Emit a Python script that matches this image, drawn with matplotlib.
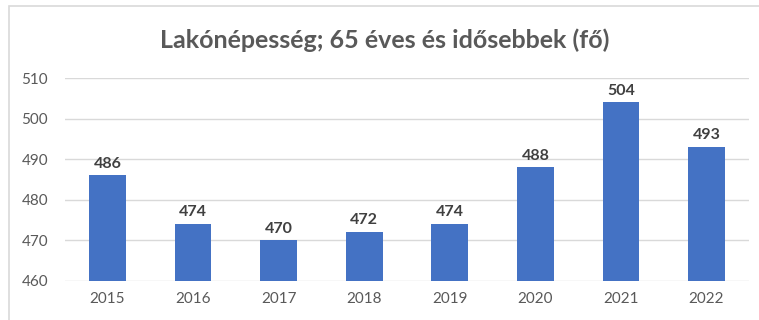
import matplotlib.pyplot as plt
from matplotlib.patches import Rectangle

years = ["2015", "2016", "2017", "2018", "2019", "2020", "2021", "2022"]
population = [486, 474, 470, 472, 474, 488, 504, 493]
y_ticks = [460, 470, 480, 490, 500, 510]
title = "Lakónépesség; 65 éves és idősebbek (fő)"

plt.rcParams['font.family'] = ['Lato', 'DejaVu Sans']

fig = plt.figure(figsize=(7.59, 3.2), dpi=100)
ax = fig.add_axes([0.0852, 0.1219, 0.902, 0.634])

x = range(len(years))
ax.bar(x, population, width=0.43, color="#4472C4", zorder=3)
for xi, v in zip(x, population):
    ax.text(xi, v + 1.2, str(v), ha="center", va="bottom", fontsize=11.5,
            fontweight="bold", color="#404040")

ax.set_xlim(-0.5, len(years) - 0.5)
ax.set_ylim(460, 510)
ax.set_yticks(y_ticks)
ax.set_xticks(list(x))
ax.set_xticklabels(years)
ax.tick_params(axis="both", length=0, labelsize=11, labelcolor="#595959")
ax.tick_params(axis="y", pad=12)
ax.tick_params(axis="x", pad=8)
ax.yaxis.grid(True, color="#D9D9D9", linewidth=1, zorder=0)
for s in ax.spines.values():
    s.set_visible(False)

fig.text(0.507, 0.875, title, ha="center", va="center", fontsize=18,
         fontweight="bold", color="#595959")

# chart frame
fig.patches.append(Rectangle((9 / 759, -0.05), 1.0, 1.05 - 6 / 320,
                             transform=fig.transFigure, fill=False,
                             edgecolor="#D9D9D9", linewidth=1.2))

fig.savefig("out.png", dpi=100)
